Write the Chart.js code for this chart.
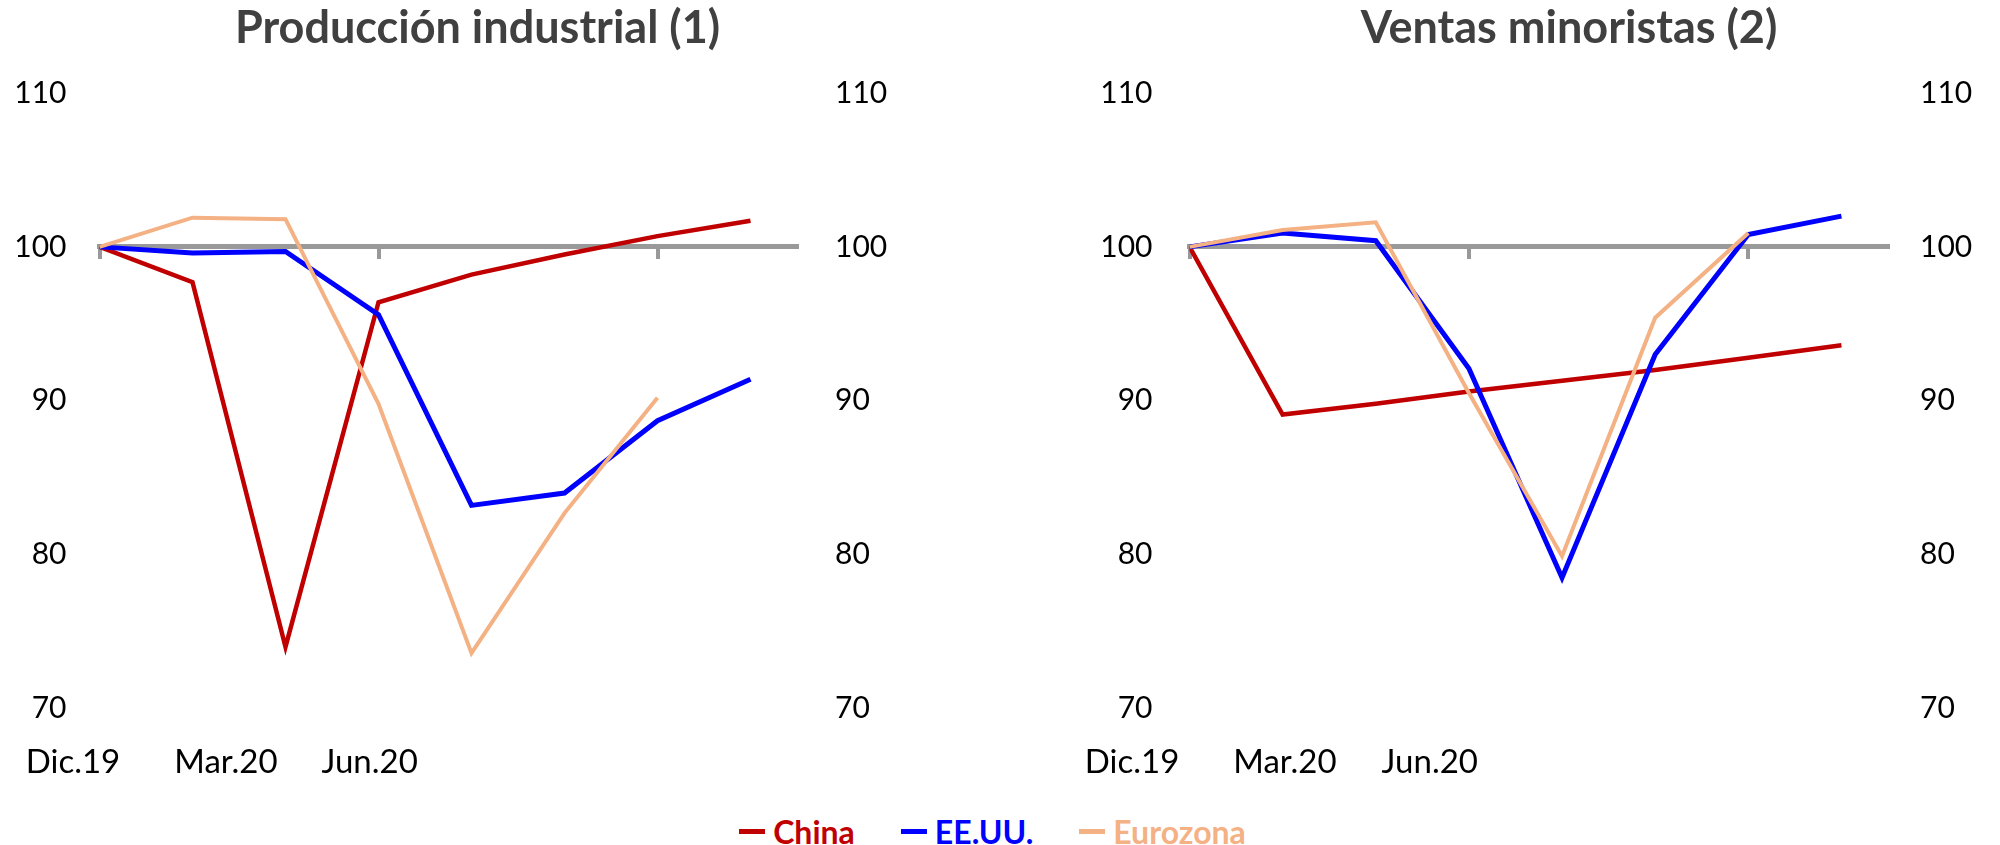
<!DOCTYPE html>
<html>
<head>
<meta charset="utf-8">
<script src="https://cdn.jsdelivr.net/npm/chart.js@4"></script>
<style>
  html, body { margin: 0; padding: 0; background: #fff; }
  body { width: 2000px; height: 845px; position: relative; overflow: hidden; font-family: Lato, sans-serif; }
  .box { position: absolute; top: 0; }
  #legend { position: absolute; top: 812px; left: 0; width: 1985px; display: flex; justify-content: center; gap: 46px; }
  .item { display: flex; align-items: center; font: bold 32px Lato, sans-serif; }
  .item i { display: inline-block; width: 26px; height: 5px; margin-right: 8px; }
</style>
</head>
<body>
<div class="box" style="left:0px"><canvas id="ipChart" width="955" height="800"></canvas></div>
<div class="box" style="left:1040px"><canvas id="rsChart" width="1058" height="800"></canvas></div>
<div id="legend"></div>

<script>
// Data (indices, Dic.19 = 100)
const months = ['Dic.19', 'Ene.20', 'Feb.20', 'Mar.20', 'Abr.20', 'May.20', 'Jun.20', 'Jul.20'];
const dateLabels = ['Dic.19', 'Mar.20', 'Jun.20'];
const tickIdx = [0, 3, 6];
const yTicks = [70, 80, 90, 100, 110];

const seriesNames = ['China', 'EE.UU.', 'Eurozona'];
const seriesColors = ['#C00000', '#0000FF', '#F4B183'];

// Producción industrial
const ipChina = [100, 97.7, 74.0, 96.4, 98.2, 99.5, 100.7, 101.7];
const ipUSA   = [100, 99.6, 99.7, 95.6, 83.2, 84.0, 88.7, 91.4];
const ipEuro  = [100, 101.9, 101.8, 89.8, 73.6, 82.7, 90.2, null];

// Ventas minoristas
const rsChina = [100, 89.1, 89.8, 90.6, 91.3, 92.0, 92.8, 93.6];
const rsUSA   = [100, 100.9, 100.4, 92.1, 78.5, 93.0, 100.8, 102.0];
const rsEuro  = [100, 101.1, 101.6, 90.5, 79.9, 95.4, 100.9, null];

// free-floating date labels under the plot (Excel text boxes)
const dateLabelPlugin = {
  id: 'dateLabelPlugin',
  afterDraw(chart, args, opts) {
    const ctx = chart.ctx;
    const xs = chart.scales.x;
    ctx.save();
    ctx.font = '33px Lato';
    ctx.fillStyle = '#000';
    ctx.textAlign = 'center';
    ctx.textBaseline = 'middle';
    dateLabels.forEach((t, i) => ctx.fillText(t, xs.getPixelForValue(opts.at[i]), opts.y));
    ctx.restore();
  }
};

function toPoints(arr) {
  return arr.map((v, i) => ({ x: i, y: v }));
}

function makeChart(id, title, series, cfg) {
  const widths = [4.5, 5, 4];
  const datasets = series.map((s, i) => ({
    label: seriesNames[i],
    data: toPoints(s),
    borderColor: seriesColors[i],
    backgroundColor: seriesColors[i],
    borderWidth: widths[i],
    pointRadius: 0,
    tension: 0,
    order: 3 - i
  }));

  const yAxis = (pad, w) => ({
    min: 70,
    max: 110,
    afterBuildTicks: s => { s.ticks = yTicks.map(v => ({ value: v })); },
    afterFit: s => { s.width = w; },
    grid: { display: false, drawTicks: false },
    border: { display: false },
    ticks: { padding: pad, color: '#000', font: { family: 'Lato', size: 30 } }
  });

  return new Chart(document.getElementById(id), {
    type: 'line',
    data: { datasets },
    plugins: [dateLabelPlugin],
    options: {
      responsive: false,
      animation: false,
      layout: { padding: { left: 0, right: 0, top: 0, bottom: 91.5 } },
      plugins: {
        legend: { display: false },
        tooltip: { enabled: false },
        title: {
          display: true,
          text: title,
          color: '#404040',
          font: { family: 'Lato', size: 45, weight: 'bold', lineHeight: 1.2 },
          padding: { top: 1.5, bottom: 37.5 }
        },
        dateLabelPlugin: { at: cfg.labelAt, y: 762 }
      },
      scales: {
        x: {
          type: 'linear',
          min: 0,
          max: 7.5,
          position: { y: 100 },
          afterBuildTicks: s => { s.ticks = tickIdx.map(v => ({ value: v })); },
          ticks: { display: false },
          grid: { display: true, drawOnChartArea: false, drawTicks: true, tickLength: 10, lineWidth: 4, color: '#999999' },
          border: { display: true, color: '#999999', width: 5 }
        },
        y: Object.assign({ position: 'left' }, yAxis(cfg.leftPad, cfg.leftW)),
        y2: Object.assign({ position: 'right' }, yAxis(cfg.rightPad, cfg.rightW))
      }
    }
  });
}

makeChart('ipChart', 'Producción industrial (1)', [ipChina, ipUSA, ipEuro],
  { leftW: 99.5, leftPad: 33, rightW: 158, rightPad: 38, labelAt: [-0.285, 1.36, 2.905] });
makeChart('rsChart', 'Ventas minoristas (2)', [rsChina, rsUSA, rsEuro],
  { leftW: 149.5, leftPad: 37, rightW: 210, rightPad: 32, labelAt: [-0.617, 1.025, 2.58] });

// shared legend
const legend = document.getElementById('legend');
seriesNames.forEach((n, i) => {
  const el = document.createElement('span');
  el.className = 'item';
  el.style.color = seriesColors[i];
  el.innerHTML = '<i style="background:' + seriesColors[i] + '"></i>' + n;
  legend.appendChild(el);
});
</script>
</body>
</html>
